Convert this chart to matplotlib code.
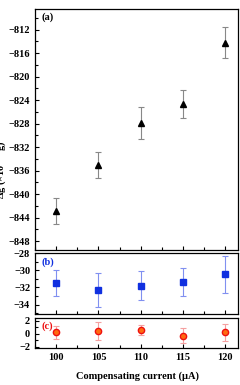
import matplotlib
matplotlib.use("Agg")
import matplotlib.pyplot as plt
from matplotlib.ticker import MultipleLocator

current = [100, 105, 110, 115, 120]
dg_a = [-842.8, -835.1, -827.9, -824.6, -814.2]
err_a = [2.2, 2.2, 2.7, 2.4, 2.6]
dg_b = [-31.5, -32.3, -31.8, -31.4, -30.5]
err_b = [1.5, 2.0, 1.65, 1.6, 2.1]
dg_c = [0.2, 0.4, 0.6, -0.3, 0.2]
err_c = [1.0, 1.4, 0.75, 1.15, 1.35]

plt.rcParams['font.family'] = ['Liberation Serif', 'DejaVu Serif']
plt.rcParams['font.weight'] = 'bold'
fs = 7.5

fig = plt.figure(figsize=(2.4, 3.85), dpi=100)
L, R = 35/240, 238/240
def box(top, bot):
    return [L, 1 - bot/385, R - L, (bot - top)/385]

axa = fig.add_axes(box(9, 250))
axb = fig.add_axes(box(253, 314))
axc = fig.add_axes(box(318, 348))

axa.errorbar(current, dg_a, yerr=err_a, fmt='^', color='black', ms=5,
             ecolor='#888888', elinewidth=0.8, capsize=2, capthick=0.8)
axb.errorbar(current, dg_b, yerr=err_b, fmt='s', color='#1030e0', ms=4.5,
             ecolor='#8090f0', elinewidth=0.8, capsize=2, capthick=0.8)
axc.errorbar(current, dg_c, yerr=err_c, fmt='o', mfc='#ff6a10', mec='#ee1010', ms=4.5,
             ecolor='#f5a0a0', elinewidth=0.8, capsize=2, capthick=0.8)

for ax in (axa, axb, axc):
    ax.set_xlim(97.5, 121.5)
    ax.xaxis.set_major_locator(MultipleLocator(5))
    ax.xaxis.set_minor_locator(MultipleLocator(2.5))
    ax.tick_params(which='both', direction='in', labelsize=fs, width=0.8)
    ax.tick_params(which='major', length=3)
    ax.tick_params(which='minor', length=2)
    for s in ax.spines.values():
        s.set_linewidth(0.9)

axa.set_ylim(-849.5, -808.5)
axa.yaxis.set_major_locator(MultipleLocator(4))
axa.yaxis.set_minor_locator(MultipleLocator(2))
axa.tick_params(labelbottom=False)

axb.set_ylim(-35.1, -28)
axb.yaxis.set_major_locator(MultipleLocator(2))
axb.yaxis.set_minor_locator(MultipleLocator(1))
axb.tick_params(labelbottom=False)

axc.set_ylim(-2.2, 2.4)
axc.yaxis.set_major_locator(MultipleLocator(2))
axc.yaxis.set_minor_locator(MultipleLocator(1))

for ax in (axa, axb, axc):
    for lab in ax.get_yticklabels() + ax.get_xticklabels():
        lab.set_fontweight('bold')

axa.text(0.03, 0.985, '(a)', transform=axa.transAxes, ha='left', va='top',
         fontsize=fs, fontweight='bold', color='black')
axb.text(0.03, 0.93, '(b)', transform=axb.transAxes, ha='left', va='top',
         fontsize=fs, fontweight='bold', color='#1030e0')
axc.text(0.03, 0.9, '(c)', transform=axc.transAxes, ha='left', va='top',
         fontsize=fs, fontweight='bold', color='#ee1010')

fig.text(1.5/240, 1 - 170/385, 'Δg (×10$^{-8}$ g)', rotation=90, ha='center', va='center',
         fontsize=fs, fontweight='bold')
fig.text(137/240, 1 - 376/385, 'Compensating current (μA)', ha='center', va='center',
         fontsize=fs, fontweight='bold')

fig.savefig('out.png', dpi=100)
